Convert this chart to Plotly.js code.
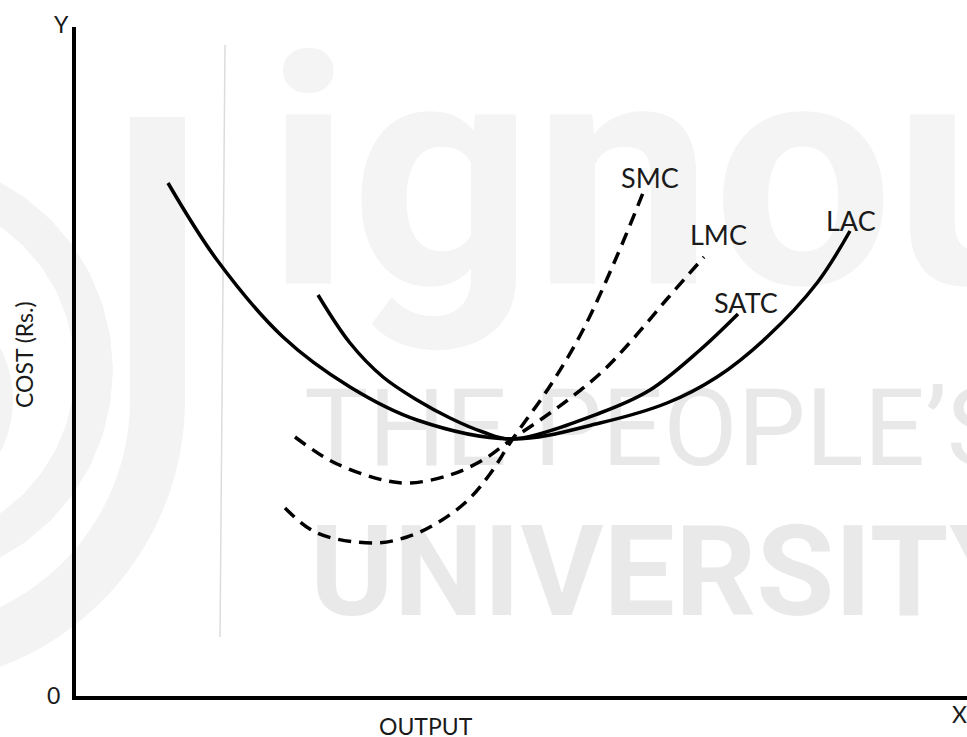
<!DOCTYPE html>
<html>
<head>
<meta charset="utf-8">
<script src="https://cdn.plot.ly/plotly-3.0.1.min.js"></script>
<style>html,body{margin:0;padding:0;background:#fff;}#chart{width:967px;height:737px;}</style>
</head>
<body>
<div id="chart"></div>
<script>
// Output (x) and cost (y) readings for each curve (schematic units)
const lacOutput  = [92,141,207,274,341,436,524,591,641,691,741,774];
const lacCost    = [513,436,359,309,276,257,273,293,319,359,413,465];
const satcOutput = [242,274,307,341,374,407,436,524,574,624,662];
const satcCost   = [401,353,319,296,278,264,257,283,306,346,382];
const lmcOutput  = [219,257,307,334,374,407,436,467,497,527,557,591,628];
const lmcCost    = [259,234,216,213,221,236,257,278,300,325,357,397,439];
const smcOutput  = [209,241,297,331,361,391,414,436,474,507,541,569];
const smcCost    = [188,163,153,159,173,195,222,256,310,366,440,508];
const curveNames = ["LAC","SATC","LMC","SMC"];

// page geometry helpers (pixel -> paper)
const L = 76, T = 27, W = 891, H = 669;
const X = p => (p - L) / W;
const Y = p => (T + H - p) / H;

const solid = {color:"#000", width:3.5, shape:"spline", smoothing:1};
const dashed = {color:"#000", width:3.5, shape:"spline", smoothing:1, dash:"13px,8px"};

const traces = [
  {x:lacOutput, y:lacCost, name:curveNames[0], mode:"lines", line:solid},
  {x:satcOutput, y:satcCost, name:curveNames[1], mode:"lines", line:solid},
  {x:lmcOutput, y:lmcCost, name:curveNames[2], mode:"lines", line:dashed},
  {x:smcOutput, y:smcCost, name:curveNames[3], mode:"lines", line:dashed}
];

const lblFont = {family:"Lato, 'Open Sans', sans-serif", size:27, color:"#1a1a1a"};
const axFont = {family:"Lato, 'Open Sans', sans-serif", size:23, color:"#1a1a1a"};

function ann(text, px, py, font, extra){
  return Object.assign({text:text, xref:"paper", yref:"paper", x:X(px), y:Y(py),
    xanchor:"center", yanchor:"middle", showarrow:false, font:font}, extra||{});
}

const annotations = [
  ann(curveNames[3], 650, 178, lblFont),
  ann(curveNames[2], 718, 234, lblFont),
  ann(curveNames[1], 746, 302, lblFont),
  ann(curveNames[0], 851, 220, lblFont),
  ann("Y", 61, 24, axFont),
  ann("0", 53, 695, axFont),
  ann("X", 959, 714, axFont),
  ann("OUTPUT", 426, 726, axFont),
  ann("COST (Rs.)", 24, 355, axFont, {textangle:-90})
];

// watermark (decorative)
const wm = "#f3f3f3";
function arcBand(cx, cy, rIn, rOut, a0, a1){
  const n = 40; let pts = [];
  for (let i=0;i<=n;i++){const a=a0+(a1-a0)*i/n; pts.push([cx+rOut*Math.cos(a), cy+rOut*Math.sin(a)]);}
  for (let i=n;i>=0;i--){const a=a0+(a1-a0)*i/n; pts.push([cx+rIn*Math.cos(a), cy+rIn*Math.sin(a)]);}
  return "M" + pts.map(p=>X(p[0]).toFixed(5)+","+Y(p[1]).toFixed(5)).join("L") + "Z";
}
const wmFamily = "Roboto, 'Liberation Sans', sans-serif";
function textShape(txt, left, mid, size, color, bold){
  return {type:"rect", xref:"paper", yref:"paper", layer:"below",
    x0:X(left), x1:X(left+1200), y0:Y(mid+1), y1:Y(mid-1),
    line:{width:0}, fillcolor:"rgba(0,0,0,0)",
    label:{text:txt, textposition:"middle left", padding:0,
      font:{family:wmFamily, size:size, color:color, weight: bold?"bold":"normal"}}};
}
const shapes = [
  {type:"path", xref:"paper", yref:"paper", layer:"below", path:arcBand(-100,370,175,213,0,2*Math.PI), fillcolor:wm, line:{width:0}},
  {type:"path", xref:"paper", yref:"paper", layer:"below", path:arcBand(-100,400,230,285,0,Math.PI/2), fillcolor:wm, line:{width:0}},
  {type:"rect", xref:"paper", yref:"paper", layer:"below", x0:X(130), x1:X(185), y0:Y(401), y1:Y(117), fillcolor:wm, line:{width:0}},
  {type:"circle", xref:"paper", yref:"paper", layer:"below", x0:X(-213), x1:X(13), y0:Y(513), y1:Y(287), fillcolor:wm, line:{width:0}},
  {type:"line", xref:"paper", yref:"paper", layer:"below", x0:X(225), y0:Y(45), x1:X(220), y1:Y(637), line:{color:"#dcdcdc", width:1.5}},
  textShape("ignou", 263, 151, 320, "#f4f4f4", true),
  textShape("THE PEOPLE\u2019S", 301, 420, 108, "#e8e8e8", false),
  textShape("UNIVERSITY", 307, 562, 127, "#e9e9e9", true)
];

const layout = {
  width:967, height:737,
  margin:{l:L, r:0, t:T, b:737-T-H, pad:0},
  paper_bgcolor:"#fff", plot_bgcolor:"rgba(0,0,0,0)",
  showlegend:false,
  xaxis:{range:[0,W], showgrid:false, zeroline:false, showticklabels:false, ticks:"",
         showline:true, linecolor:"#000", linewidth:4, fixedrange:true},
  yaxis:{range:[0,H], showgrid:false, zeroline:false, showticklabels:false, ticks:"",
         showline:true, linecolor:"#000", linewidth:4, fixedrange:true},
  annotations:annotations,
  shapes:shapes
};

Plotly.newPlot("chart", traces, layout, {staticPlot:true, displayModeBar:false});
</script>
</body>
</html>
